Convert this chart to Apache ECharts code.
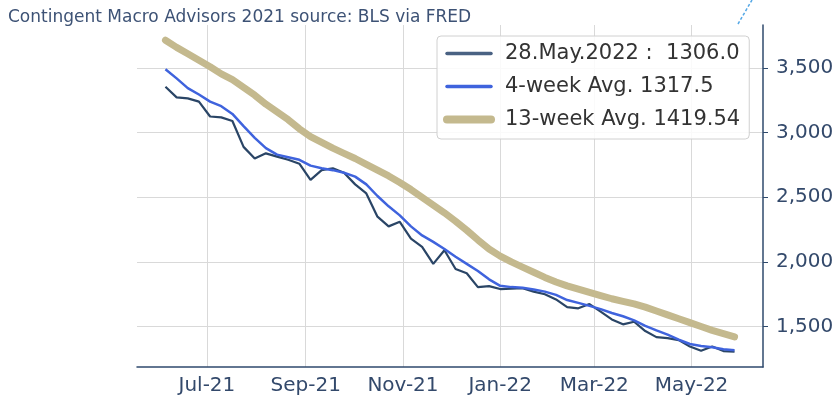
<!DOCTYPE html>
<html>
<head>
<meta charset="utf-8">
<script src="https://cdn.jsdelivr.net/npm/echarts@6/dist/echarts.min.js"></script>
<style>
  html, body { margin: 0; padding: 0; background: #ffffff; }
  #chart { width: 838px; height: 406px; }
</style>
</head>
<body>
<div id="chart"></div>
<script>
// ---- data (weekly, thousands) ----
const dates = [
  '2021-06-05','2021-06-12','2021-06-19','2021-06-26','2021-07-03','2021-07-10','2021-07-17','2021-07-24','2021-07-31',
  '2021-08-07','2021-08-14','2021-08-21','2021-08-28','2021-09-04','2021-09-11','2021-09-18','2021-09-25',
  '2021-10-02','2021-10-09','2021-10-16','2021-10-23','2021-10-30','2021-11-06','2021-11-13','2021-11-20','2021-11-27',
  '2021-12-04','2021-12-11','2021-12-18','2021-12-25','2022-01-01','2022-01-08','2022-01-15','2022-01-22','2022-01-29',
  '2022-02-05','2022-02-12','2022-02-19','2022-02-26','2022-03-05','2022-03-12','2022-03-19','2022-03-26',
  '2022-04-02','2022-04-09','2022-04-16','2022-04-23','2022-04-30','2022-05-07','2022-05-14','2022-05-21','2022-05-28'
];
const weekly = [
  3355,3273,3265,3240,3125,3118,3090,2890,2800,
  2840,2815,2790,2760,2635,2710,2725,2690,
  2600,2530,2350,2275,2310,2180,2117,1985,2090,
  1945,1912,1805,1813,1790,1793,1797,1770,1750,
  1710,1650,1641,1674,1615,1555,1517,1537,
  1465,1418,1410,1395,1345,1312,1345,1310,1306
];
const avg4 = [
  3490,3420,3345,3295,3240,3205,3145,3050,2960,
  2880,2830,2810,2790,2745,2725,2710,2690,
  2660,2600,2510,2430,2360,2275,2205,2155,2100,
  2040,1985,1930,1865,1815,1805,1800,1787,1770,
  1745,1705,1683,1660,1635,1605,1580,1548,
  1505,1470,1437,1398,1365,1350,1340,1325,1317.5
];
const avg13 = [
  3715,3660,3610,3560,3510,3455,3410,3350,3290,
  3220,3160,3100,3030,2970,2925,2880,2840,
  2800,2755,2710,2665,2615,2560,2500,2440,2380,
  2315,2245,2170,2100,2045,2000,1960,1920,1880,
  1845,1815,1790,1765,1740,1715,1695,1675,
  1650,1620,1590,1560,1530,1500,1470,1445,1419.54
];
const seriesNames = ['28.May.2022 :  1306.0', '4-week Avg. 1317.5', '13-week Avg. 1419.54'];
const xTickDates = ['2021-07-01','2021-09-01','2021-11-01','2022-01-01','2022-03-01','2022-05-01'];
const yTicks = [1500, 2000, 2500, 3000, 3500];
const yRange = [1187, 3833];
const titleText = 'Contingent Macro Advisors 2021 source: BLS via FRED';

// ---- build ----
const ts = d => new Date(d + 'T00:00:00Z').getTime();
const t0 = ts(dates[0]), t1 = ts(dates[dates.length - 1]);
const pad = (t1 - t0) * 0.05;
const monthNames = ['Jan','Feb','Mar','Apr','May','Jun','Jul','Aug','Sep','Oct','Nov','Dec'];
const fmtDate = v => { const d = new Date(v); return monthNames[d.getUTCMonth()] + '-' + String(d.getUTCFullYear()).slice(2); };
const pair = arr => dates.map((d, i) => [ts(d), arr[i]]);

const axisColor = '#2f4a6d';
const labelColor = '#33496b';
const colWeekly = '#2a4566', colAvg4 = '#3f63dd', colAvg13 = '#c4b98e';

const chart = echarts.init(document.getElementById('chart'), null, { renderer: 'canvas' });
chart.setOption({
  animation: false,
  backgroundColor: '#ffffff',
  title: {
    text: titleText, left: 3, top: 4,
    textStyle: { fontFamily: 'DejaVu Sans', fontSize: 17, fontWeight: 'normal', color: '#3d5275' }
  },
  grid: { left: 137, right: 75, top: 25, bottom: 39, containLabel: false },
  legend: {
    orient: 'vertical', left: 437, top: 36,
    data: [
      { name: seriesNames[0], lineStyle: { width: 3.5, color: '#4a6283', cap: 'round' } },
      { name: seriesNames[1], lineStyle: { width: 3.5, color: colAvg4, cap: 'round' } },
      { name: seriesNames[2], lineStyle: { width: 8, color: colAvg13, cap: 'round' } }
    ],
    itemWidth: 44, itemHeight: 20, itemGap: 12,
    padding: [7, 9, 9, 6],
    backgroundColor: 'rgba(255,255,255,0.85)',
    borderColor: '#d0d0d0', borderWidth: 1, borderRadius: 4,
    itemStyle: { opacity: 0 },
    textStyle: { fontFamily: 'DejaVu Sans', fontSize: 21, color: '#333333', padding: [0, 0, 0, 9] }
  },
  xAxis: {
    type: 'value',
    min: t0 - pad, max: t1 + pad,
    axisLine: { show: true, lineStyle: { color: axisColor, width: 1.5 } },
    axisTick: { show: false, customValues: xTickDates.map(ts) },
    axisLabel: {
      customValues: xTickDates.map(ts), formatter: v => fmtDate(v),
      color: labelColor, fontFamily: 'DejaVu Sans', fontSize: 20, margin: 9
    },
    splitLine: { show: true, lineStyle: { color: '#d9d9d9', width: 1 } }
  },
  yAxis: {
    type: 'value', position: 'right',
    min: yRange[0], max: yRange[1],
    axisLine: { show: true, lineStyle: { color: axisColor, width: 1.5 } },
    axisTick: { show: true, inside: false, length: 5, customValues: yTicks, lineStyle: { color: axisColor } },
    axisLabel: {
      customValues: yTicks, formatter: v => v.toLocaleString('en-US'),
      color: labelColor, fontFamily: 'DejaVu Sans', fontSize: 20, margin: 13
    },
    splitLine: { show: true, lineStyle: { color: '#d9d9d9', width: 1 } }
  },
  series: [
    { name: seriesNames[2], type: 'line', data: pair(avg13), symbol: 'none', z: 1,
      lineStyle: { color: colAvg13, width: 7, cap: 'round', join: 'round' }, itemStyle: { color: colAvg13 } },
    { name: seriesNames[0], type: 'line', data: pair(weekly), symbol: 'none', z: 2,
      lineStyle: { color: colWeekly, width: 2.2 }, itemStyle: { color: colWeekly } },
    { name: seriesNames[1], type: 'line', data: pair(avg4), symbol: 'none', z: 3,
      lineStyle: { color: colAvg4, width: 2.5 }, itemStyle: { color: colAvg4 } }
  ],
  graphic: [
    { type: 'line', shape: { x1: 738, y1: 24, x2: 752, y2: 0 }, z: 100,
      style: { stroke: '#55a8e6', lineWidth: 1.5, lineDash: [3, 2] } }
  ]
});
</script>
</body>
</html>
